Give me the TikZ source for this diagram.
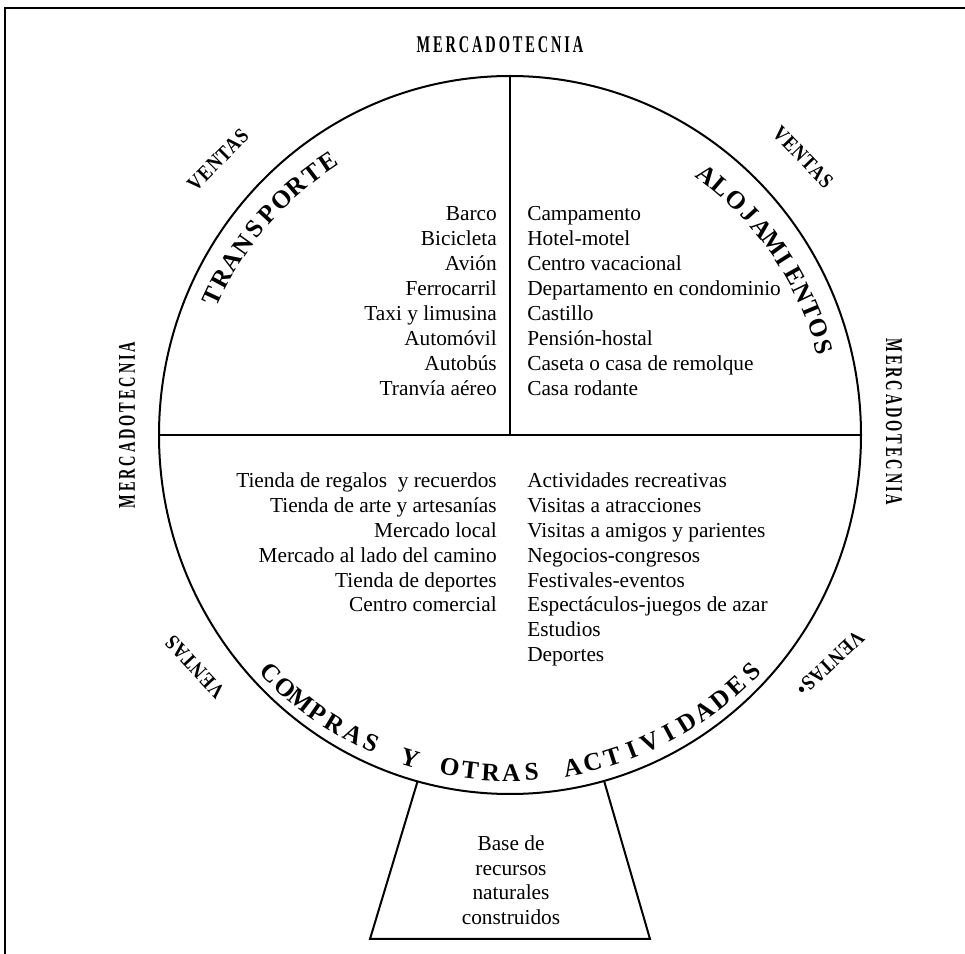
\documentclass[tikz,border=0pt]{standalone}
\usepackage{fontspec}
\setmainfont{Liberation Serif}
\newfontfamily\wideserif[LetterSpace=20]{Liberation Serif}
\newfontfamily\tightserif[LetterSpace=5]{Liberation Serif}
\usetikzlibrary{calc}
\begin{document}
\begin{tikzpicture}[x=0.75pt,y=0.75pt,
  item/.style={inner sep=0pt, font=\fontsize{16}{18}\selectfont},
  arcletter/.style={inner sep=0pt, font=\fontsize{19}{19}\selectfont\bfseries},
  sidelabel/.style={inner sep=0pt, font=\fontsize{18}{18}\selectfont\wideserif\bfseries},
  ventas/.style={inner sep=0pt, font=\fontsize{16}{16}\selectfont\tightserif\bfseries},
  ring/.style={line width=1.5pt},
  divider/.style={line width=1.1pt},
]
\useasboundingbox (0,0) rectangle (965,954);

% page frame (top and left edges)
\draw[line width=2pt] (5,0) -- (5,946) -- (965,946);

% the wheel centre and its dividers' ends
\coordinate (c) at (510,519);
\coordinate (ctop) at (510,878);
\coordinate (cleft) at (159,519);
\coordinate (cright) at (861,519);

% the base under the wheel; its sides run in under the rim
\coordinate (bl) at (424,194);
\coordinate (br) at (598,194);
\coordinate (bbl) at (370,15);
\coordinate (bbr) at (650,15);
\draw[ring, line join=miter] (bl) -- (bbl) -- (bbr) -- (br);

% the wheel
\filldraw[ring, fill=white] (c) ellipse[x radius=263.25pt, y radius=269.25pt];
\draw[divider] (ctop) -- (c);
\draw[divider] (cleft) -- (cright);

% curved sector titles
\foreach \ch [count=\i] in {T,R,A,N,S,P,O,R,T,E}{
  \pgfmathsetmacro\ang{155-(\i-1)*31.3/9}
  \node[arcletter, rotate=\ang-90] (tr\i) at ($(c)+(\ang:328)$) {\ch};
}
\foreach \ch [count=\i] in {A,L,O,J,A,M,I,E,N,T,O,S}{
  \pgfmathsetmacro\ang{52.9-(\i-1)*37.2/11}
  \node[arcletter, rotate=\ang-90] (al\i) at ($(c)+(\ang:326)$) {\ch};
}
\foreach \ch [count=\i] in {C,O,M,P,R,A,S,{},Y,{},O,T,R,A,S,{},A,C,T,I,V,I,D,A,D,E,S}{
  \pgfmathsetmacro\ang{224.9+(\i-1)*90.6/26}
  \node[arcletter, rotate=\ang+90] (co\i) at ($(c)+(\ang:338)$) {\ch};
}

% outer labels
\node[sidelabel] (mtop) at (500,909) {\scalebox{0.6}[1]{MERCADOTECNIA}};
\node[sidelabel, rotate=90] (mleft) at (127,529) {\scalebox{0.6}[1]{MERCADOTECNIA}};
\node[sidelabel, rotate=-90] (mright) at (894,532) {\scalebox{0.6}[1]{MERCADOTECNIA}};
\node[ventas, rotate=45] (v1) at (218,794) {\scalebox{0.85}[1]{VENTAS}};
\node[ventas, rotate=-46] (v2) at (803,797) {\scalebox{0.85}[1]{VENTAS}};
\node[ventas, rotate=133] (v3) at (195,287) {\scalebox{0.85}[1]{VENTAS}};
\node[ventas, rotate=223] (v4) at (830,291) {\scalebox{0.85}[1]{VENTAS\textbullet}};

% sector contents
\foreach \t [count=\i] in {Barco,Bicicleta,Avión,Ferrocarril,Taxi y limusina,Automóvil,Autobús,Tranvía aéreo}{
  \node[item, anchor=base east] (tl\i) at (497,{954-221-(\i-1)*25}) {\t};
}
\foreach \t [count=\i] in {Campamento,Hotel-motel,Centro vacacional,Departamento en condominio,Castillo,Pensión-hostal,Caseta o casa de remolque,Casa rodante}{
  \node[item, anchor=base west] (tr\i) at (527,{954-221-(\i-1)*25}) {\t};
}
\foreach \t [count=\i] in {Tienda de regalos\ \ y recuerdos,Tienda de arte y artesanías,Mercado local,Mercado al lado del camino,Tienda de deportes,Centro comercial}{
  \node[item, anchor=base east] (bl\i) at (497,{954-488-(\i-1)*24.8}) {\t};
}
\foreach \t [count=\i] in {Actividades recreativas,Visitas a atracciones,Visitas a amigos y parientes,Negocios-congresos,Festivales-eventos,Espectáculos-juegos de azar,Estudios,Deportes}{
  \node[item, anchor=base west] (br\i) at (527,{954-488-(\i-1)*24.8}) {\t};
}
\foreach \t [count=\i] in {Base de,recursos,naturales,construidos}{
  \node[item, anchor=base] (ba\i) at (511,{954-851-(\i-1)*24.4}) {\t};
}
\end{tikzpicture}
\end{document}
